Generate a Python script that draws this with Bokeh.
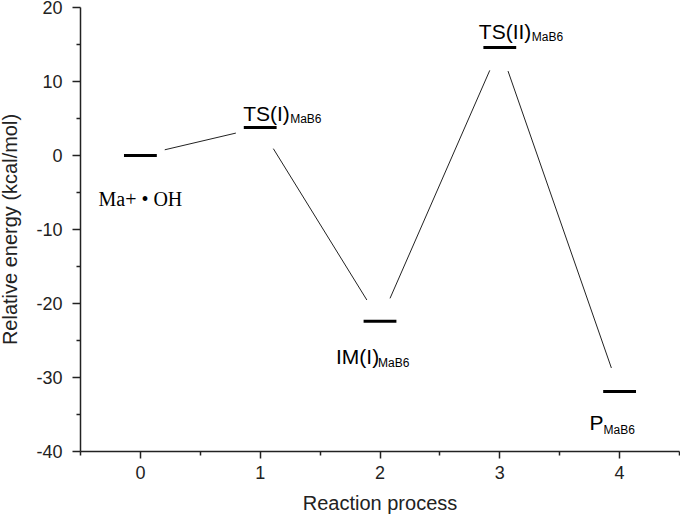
import math
from bokeh.plotting import figure
from bokeh.models import FixedTicker, Range1d
from bokeh.core.properties import value
from bokeh.embed import file_html
from bokeh.resources import INLINE

# ---- data ----
steps = [0, 1, 2, 3, 4]
energies = [0.0, 3.8, -22.4, 14.6, -31.9]
main_labels = ["Ma+ • OH", "TS(I)", "IM(I)", "TS(II)", "P"]
sub_labels = ["MaB6", "MaB6", "MaB6", "MaB6"]
sub_steps = [1, 2, 3, 4]
x_ticks = [0, 1, 2, 3, 4]
x_minor = [-0.5, 0.5, 1.5, 2.5, 3.5, 4.5]
y_ticks = [-40, -30, -20, -10, 0, 10, 20]
y_minor = [-35, -25, -15, -5, 5, 15]

# ---- layout / style ----
W, H = 688, 526
X0, X1 = -0.5, 4.5
Y0, Y1 = -40, 20
BL, BR, BT, BB = 88, 1, 15, 67
sx = (W - BL - BR) / (X1 - X0)
sy = (H - BT - BB) / (Y1 - Y0)
half_bar = 0.137
gap_px = 25

p = figure(width=W, height=H, x_range=Range1d(X0, X1), y_range=Range1d(Y0, Y1),
           output_backend="svg", toolbar_location=None,
           min_border_left=BL, min_border_right=BR, min_border_top=BT, min_border_bottom=BB)
p.margin = (-8, -8, -8, -8)
p.outline_line_color = None
p.grid.visible = False

# level bars
p.segment(x0=[s - half_bar for s in steps], x1=[s + half_bar for s in steps],
          y0=energies, y1=energies, line_color="black", line_width=3)

# connectors (trimmed near each level)
cx0, cy0, cx1, cy1 = [], [], [], []
for i in range(len(steps) - 1):
    xa, ya, xb, yb = steps[i], energies[i], steps[i + 1], energies[i + 1]
    L = math.hypot((xb - xa) * sx, (yb - ya) * sy)
    f = gap_px / L
    cx0.append(xa + f * (xb - xa)); cy0.append(ya + f * (yb - ya))
    cx1.append(xb - f * (xb - xa)); cy1.append(yb - f * (yb - ya))
p.segment(x0=cx0, y0=cy0, x1=cx1, y1=cy1, line_color="#222222", line_width=1)

# labels
main_xoff = [0, -17, -44, -21, -30]
main_yoff = [43, -14, 35, -16, 31]
main_align = ["center", "left", "left", "left", "left"]
fonts = ["Liberation Serif", "Liberation Sans", "Liberation Sans", "Liberation Sans", "Liberation Sans"]
sizes = ["20px", "21px", "21px", "21px", "21px"]
for i in range(len(steps)):
    p.text(x=[steps[i]], y=[energies[i]], text=[main_labels[i]],
           x_offset=main_xoff[i], y_offset=main_yoff[i],
           text_font=value(fonts[i]), text_font_size=sizes[i],
           text_align=main_align[i], text_baseline="alphabetic", text_color="black")

sub_xoff = [30, -2, 32, -16]
sub_yoff = [-8, 42, -10, 38]
p.text(x=sub_steps, y=[energies[s] for s in sub_steps], text=sub_labels,
       x_offset=sub_xoff, y_offset=sub_yoff,
       text_font=value("Liberation Sans"), text_font_size="12px",
       text_align="left", text_baseline="alphabetic", text_color="black")

# axes
for ax, ticks, minor in ((p.xaxis[0], x_ticks, x_minor), (p.yaxis[0], y_ticks, y_minor)):
    ax.ticker = FixedTicker(ticks=ticks, minor_ticks=minor)
    ax.major_label_overrides = {t: str(t) for t in ticks}
    ax.axis_line_color = "#222222"
    ax.axis_line_width = 1.5
    ax.major_tick_line_color = "#222222"
    ax.major_tick_line_width = 1.5
    ax.minor_tick_line_color = "#222222"
    ax.minor_tick_line_width = 1.5
    ax.major_tick_in = 0
    ax.minor_tick_in = 0
    ax.major_label_text_font = "Liberation Sans"
    ax.major_label_text_font_size = "18px"
    ax.major_label_text_color = "#222222"
    ax.axis_label_text_font = "Liberation Sans"
    ax.axis_label_text_font_size = "20px"
    ax.axis_label_text_font_style = "normal"
    ax.axis_label_text_color = "#222222"

p.xaxis.major_tick_out = 7
p.xaxis.minor_tick_out = 4
p.yaxis.major_tick_out = 8
p.yaxis.minor_tick_out = 4
p.xaxis.major_label_standoff = 7
p.yaxis.major_label_standoff = 10
p.xaxis.axis_label = "Reaction process"
p.yaxis.axis_label = "Relative energy (kcal/mol)"
p.xaxis.axis_label_standoff = 10
p.yaxis.axis_label_standoff = 12

open("out.html", "w").write(file_html(p, INLINE))
